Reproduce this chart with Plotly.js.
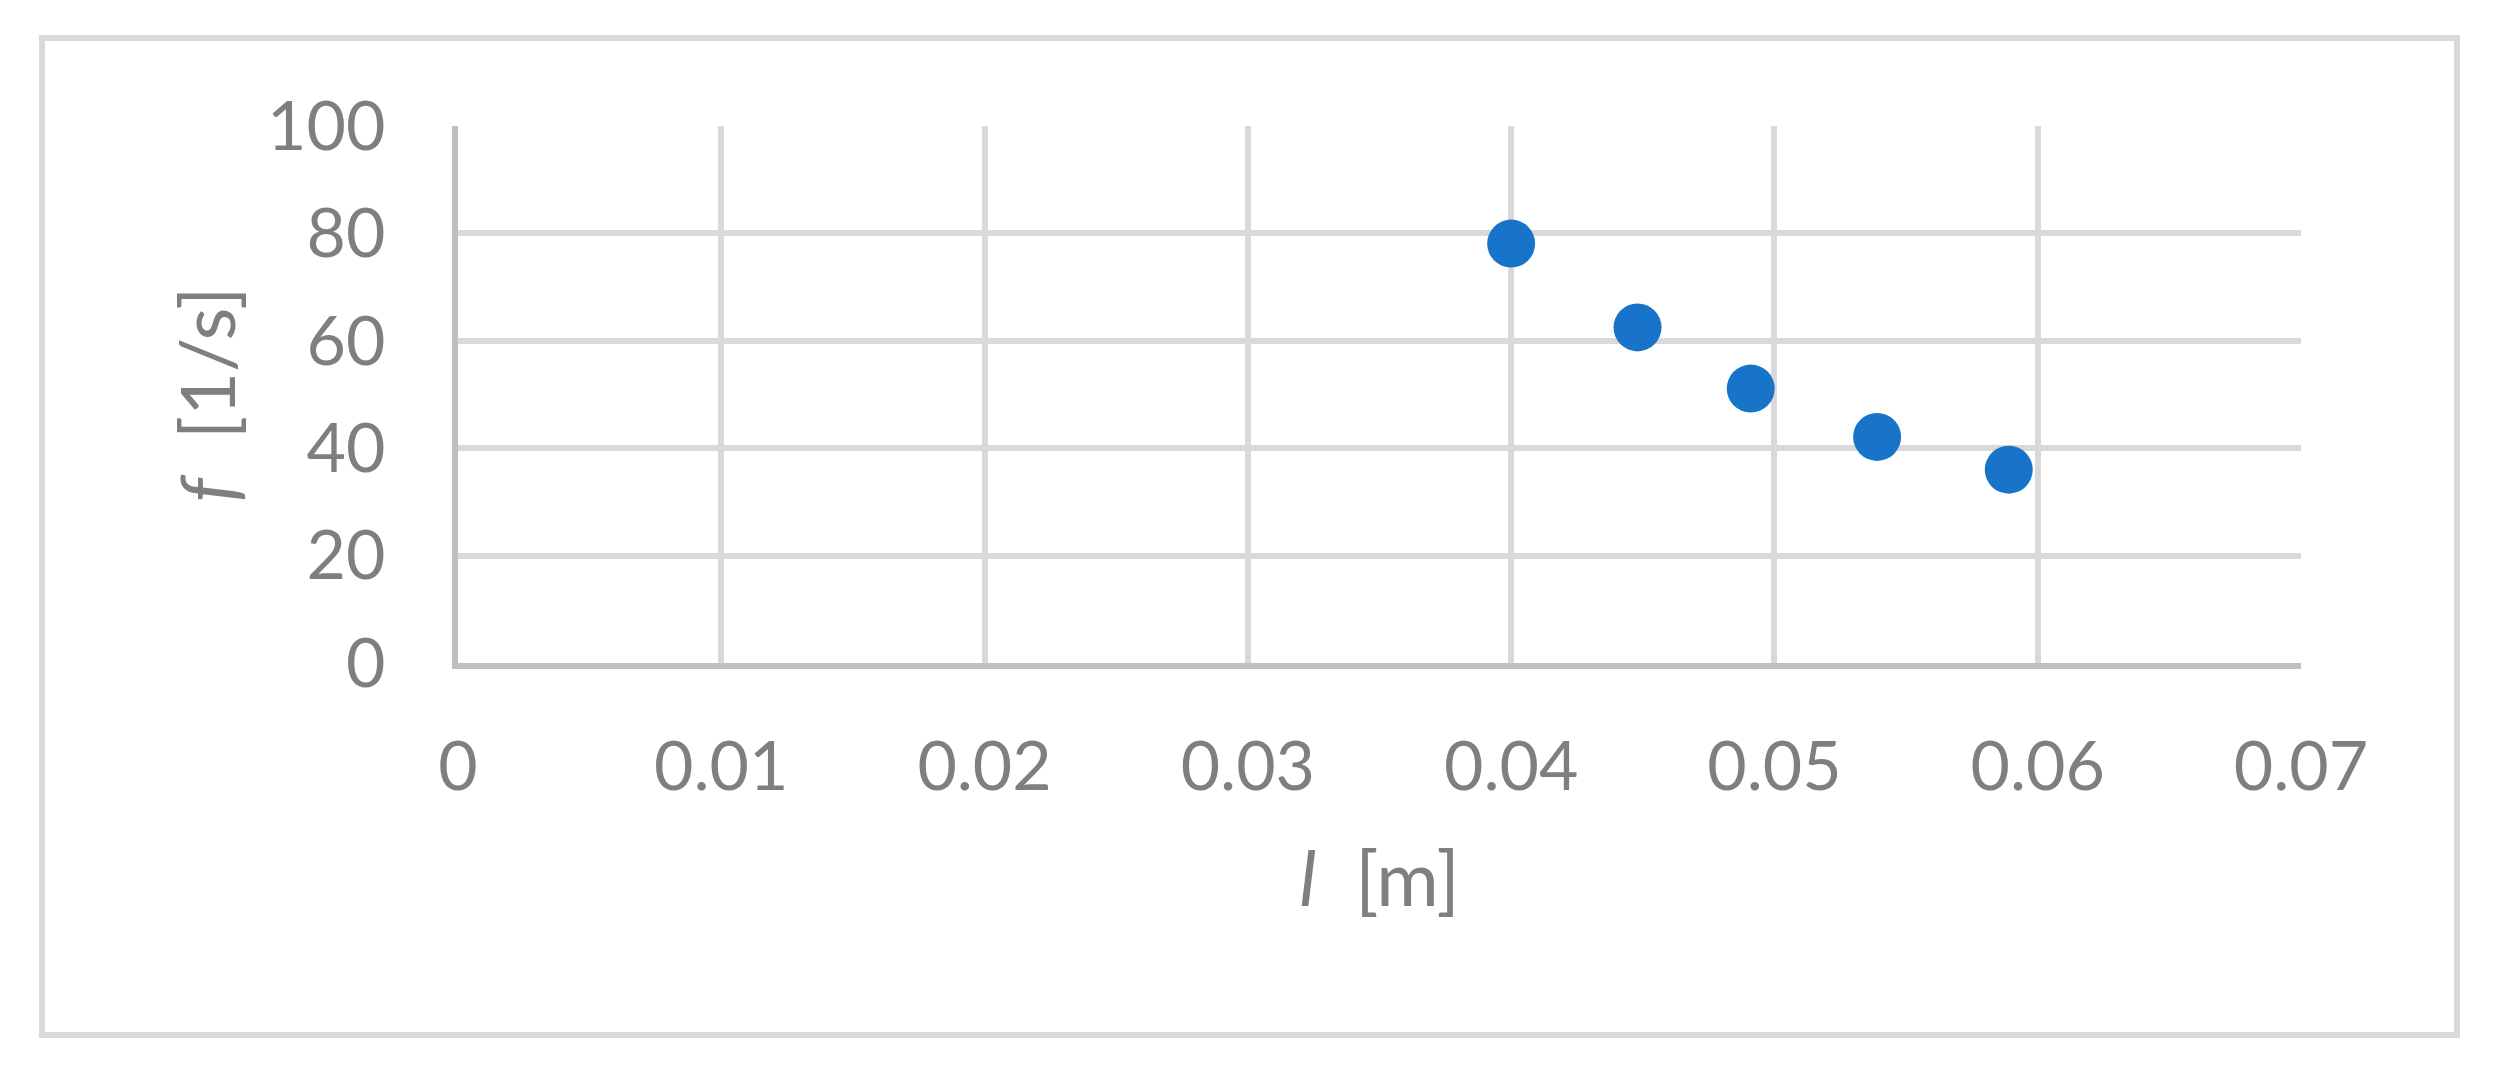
<!DOCTYPE html>
<html>
<head>
<meta charset="utf-8">
<script src="https://cdn.plot.ly/plotly-3.0.1.min.js"></script>
<style>
html,body{margin:0;padding:0;background:#fff;}
#chart{width:2504px;height:1089px;}
</style>
</head>
<body>
<div id="chart"></div>
<script>
// Data
const lengthM = [0.0400, 0.0448, 0.0491, 0.0539, 0.0589];
const freq = [78.1, 62.5, 51.1, 42.1, 36.0];
const xTicks = [0, 0.01, 0.02, 0.03, 0.04, 0.05, 0.06, 0.07];
const xTickLabels = ['0', '0.01', '0.02', '0.03', '0.04', '0.05', '0.06', '0.07'];
const yTicks = [0, 20, 40, 60, 80, 100];
const yTickLabels = ['0', '20', '40', '60', '80', '100'];

const textColor = '#7f7f7f';
const fontFam = 'Lato, "Open Sans", sans-serif';
const fs = 68;
const tfs = 76;

const W = 2504, H = 1089;
const mL = 458, mR = 203, mT = 126, mB = 426;
const pw = W - mL - mR, ph = H - mT - mB;
// frame around the whole chart in paper units
const fx0 = (42 - mL) / pw, fx1 = (2457 - mL) / pw;
const fy0 = (H - mB - 1035) / ph, fy1 = (H - mB - 38) / ph;

const trace = {
  type: 'scatter',
  mode: 'markers',
  x: lengthM,
  y: freq,
  marker: {size: 48, color: '#1874c8'},
  hoverinfo: 'x+y',
  cliponaxis: false
};

const layout = {
  width: W, height: H,
  margin: {l: mL, r: mR, t: mT, b: mB, pad: 0},
  paper_bgcolor: '#ffffff',
  plot_bgcolor: '#ffffff',
  showlegend: false,
  font: {family: fontFam, color: textColor, size: fs},
  xaxis: {
    range: [0, 0.07],
    tickmode: 'array', tickvals: xTicks, ticktext: xTickLabels,
    showgrid: true, gridcolor: '#d9d9d9', gridwidth: 6,
    showline: true, linecolor: '#bfbfbf', linewidth: 6,
    zeroline: false, ticks: '', ticklabelstandoff: 39,
    tickfont: {family: fontFam, size: fs, color: textColor},
    automargin: false,
    title: {text: '<i>l</i>  [m]', font: {family: fontFam, size: tfs, color: textColor}, standoff: 52}
  },
  yaxis: {
    range: [0, 100],
    tickmode: 'array', tickvals: yTicks, ticktext: yTickLabels,
    showgrid: true, gridcolor: '#d9d9d9', gridwidth: 6,
    showline: true, linecolor: '#bfbfbf', linewidth: 6,
    zeroline: false, ticks: '', ticklabelstandoff: 53,
    tickfont: {family: fontFam, size: fs, color: textColor},
    automargin: false,
    title: {text: '<i>f</i>  [1/s]', font: {family: fontFam, size: tfs, color: textColor}, standoff: 8}
  },
  shapes: [{
    type: 'rect', xref: 'paper', yref: 'paper',
    x0: fx0, x1: fx1, y0: fy0, y1: fy1,
    line: {color: '#d9d9d9', width: 6}, fillcolor: 'rgba(0,0,0,0)', layer: 'below'
  }]
};

Plotly.newPlot('chart', [trace], layout, {displayModeBar: false, staticPlot: true});
</script>
</body>
</html>
